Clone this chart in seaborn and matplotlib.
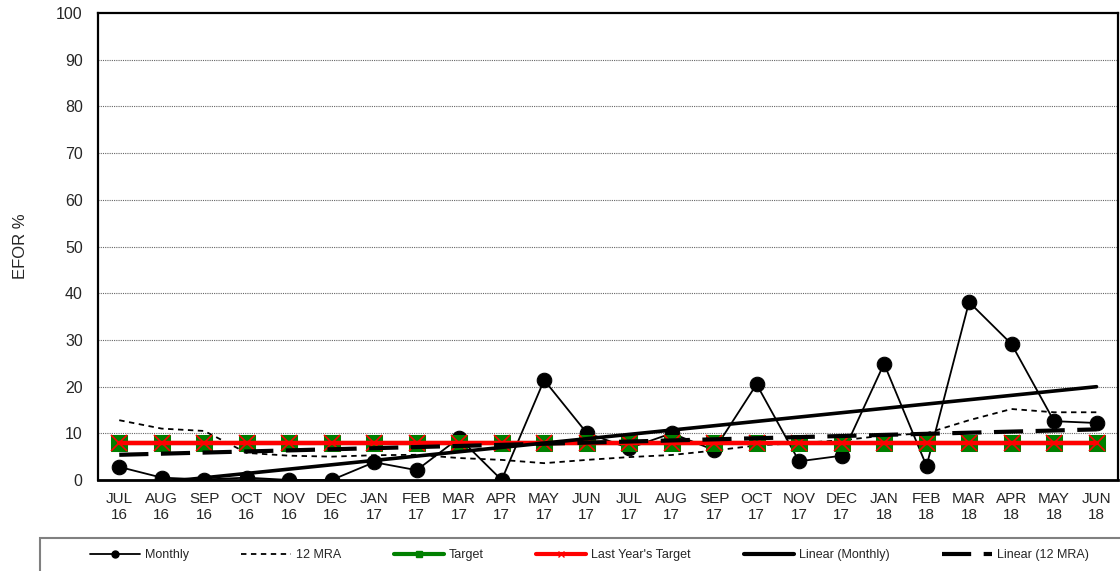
import numpy as np
import pandas as pd
import matplotlib
matplotlib.use("Agg")
import matplotlib.pyplot as plt
import seaborn as sns
from matplotlib.lines import Line2D
from matplotlib.patches import Rectangle

months = ["JUL\n16", "AUG\n16", "SEP\n16", "OCT\n16", "NOV\n16", "DEC\n16",
          "JAN\n17", "FEB\n17", "MAR\n17", "APR\n17", "MAY\n17", "JUN\n17",
          "JUL\n17", "AUG\n17", "SEP\n17", "OCT\n17", "NOV\n17", "DEC\n17",
          "JAN\n18", "FEB\n18", "MAR\n18", "APR\n18", "MAY\n18", "JUN\n18"]
monthly = [2.8, 0.5, 0.1, 0.5, 0.0, 0.0, 3.8, 2.1, 9.0, 0.0, 21.4, 10.1,
           6.8, 10.0, 6.4, 20.5, 4.0, 5.2, 24.9, 3.0, 38.1, 29.1, 12.6, 12.2]
mra12 = [12.8, 11.0, 10.5, 5.8, 5.2, 5.0, 5.3, 5.4, 4.7, 4.3, 3.6, 4.3,
         4.9, 5.35, 6.3, 7.4, 7.9, 8.5, 9.5, 10.0, 12.8, 15.2, 14.5, 14.5]
target = [7.9] * 24
last_year_target = [7.9] * 24
yticks = list(range(0, 101, 10))

sns.set_style("white")
plt.rcParams['font.family'] = ['Liberation Sans', 'DejaVu Sans']

x = np.arange(len(months))
df = pd.DataFrame({"x": x, "Monthly": monthly, "12 MRA": mra12,
                   "Target": target, "Last Year's Target": last_year_target})

fig = plt.figure(figsize=(11.2, 5.71), dpi=100)
ax = fig.add_axes([0.0875, 0.1594, 0.9105, 0.8178])

# grid
for v in yticks[1:-1]:
    ax.axhline(v, color="#666666", lw=0.8, ls=(0, (1, 1)), zorder=0)

sns.lineplot(data=df, x="x", y="Monthly", ax=ax, color="black", lw=1.3,
             marker="o", markersize=10.5, markeredgecolor="black", zorder=3)
sns.lineplot(data=df, x="x", y="12 MRA", ax=ax, color="black", lw=1.3,
             linestyle=(0, (3, 2.5)), zorder=3)
sns.lineplot(data=df, x="x", y="Target", ax=ax, color="#008000", lw=3,
             marker="s", markersize=12, markeredgecolor="#008000", zorder=4)
sns.lineplot(data=df, x="x", y="Last Year's Target", ax=ax, color="#ff0000", lw=3.2,
             marker="x", markersize=11, markeredgewidth=1.2, markeredgecolor="#ff0000", zorder=5)

# linear trendlines computed from the data
c1 = np.polyfit(x, np.array(monthly), 1)
c2 = np.polyfit(x, np.array(mra12), 1)
trend = pd.DataFrame({"x": x, "m": np.polyval(c1, x), "r": np.polyval(c2, x)})
sns.lineplot(data=trend, x="x", y="m", ax=ax, color="black", lw=2.6, zorder=6)
sns.lineplot(data=trend, x="x", y="r", ax=ax, color="black", lw=3,
             linestyle=(0, (7, 3)), zorder=6)

ax.set_xlim(-0.5, 23.5)
ax.set_ylim(0, 100)
ax.set_yticks(yticks)
ax.set_yticklabels([str(v) for v in yticks], fontsize=11.5)
ax.set_xticks(x)
ax.set_xticklabels(months, fontsize=11, linespacing=1.1)
ax.set_xticks(np.arange(-0.5, 24, 1), minor=True)
ax.tick_params(axis="x", which="major", length=0, pad=9)
ax.tick_params(axis="x", which="minor", length=7, width=1.2, direction="inout", color="black")
ax.tick_params(axis="y", which="major", length=4, width=1, direction="in", color="black", pad=11)
ax.set_xlabel("")
ax.set_ylabel("EFOR %", fontsize=12, labelpad=20)
for s in ax.spines.values():
    s.set_color("black")
    s.set_linewidth(1.6)
ax.spines["bottom"].set_linewidth(2)

handles = [
    Line2D([], [], color="black", lw=1.3, marker="o", markersize=5),
    Line2D([], [], color="black", lw=1.3, ls=(0, (3, 2.5))),
    Line2D([], [], color="#008000", lw=3, marker="s", markersize=5),
    Line2D([], [], color="#ff0000", lw=3, marker="x", markersize=4, markeredgewidth=1),
    Line2D([], [], color="black", lw=3),
    Line2D([], [], color="black", lw=3, ls=(0, (7, 3))),
]
labels = ["Monthly", "12 MRA", "Target", "Last Year's Target", "Linear (Monthly)", "Linear (12 MRA)"]
leg = fig.legend(handles, labels, loc="center", ncol=6,
                 bbox_to_anchor=(0.526, 0.028),
                 fontsize=9, handlelength=4, frameon=False,
                 borderaxespad=0, handletextpad=0.4, columnspacing=4.2)
fig.add_artist(Rectangle((40 / 1120, -0.2), 1.1, 0.2 + 0.058, transform=fig.transFigure,
                         facecolor="none", edgecolor="#808080", lw=1.5, clip_on=False))

fig.savefig("out.png", dpi=100)
